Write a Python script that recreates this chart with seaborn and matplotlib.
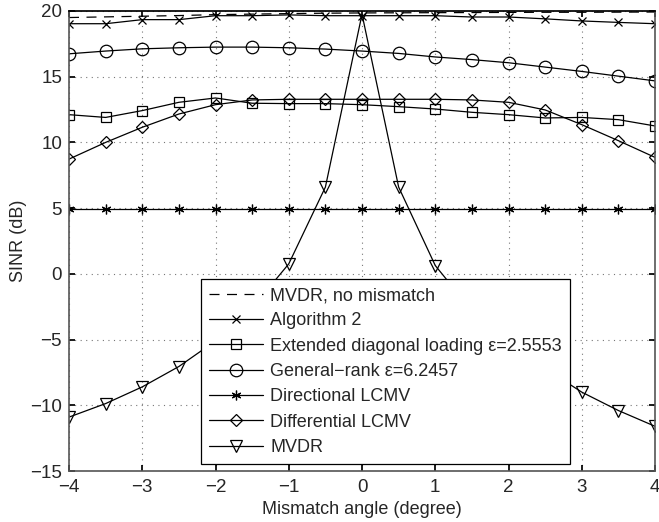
import numpy as np
import pandas as pd
import matplotlib
matplotlib.use("Agg")
import matplotlib.pyplot as plt
import seaborn as sns

angles = [-4, -3.5, -3, -2.5, -2, -1.5, -1, -0.5, 0, 0.5, 1, 1.5, 2, 2.5, 3, 3.5, 4]

mvdr_nomismatch = [19.5, 19.55, 19.6, 19.65, 19.72, 19.76, 19.8, 19.83, 19.85, 19.86, 19.87, 19.88, 19.89, 19.9, 19.9, 19.91, 19.92]
algorithm2 = [19.03, 19.03, 19.34, 19.34, 19.64, 19.64, 19.7, 19.64, 19.64, 19.64, 19.64, 19.54, 19.54, 19.4, 19.24, 19.13, 19.03]
ext_diag = [12.11, 11.9, 12.42, 13.05, 13.38, 12.98, 12.95, 12.95, 12.87, 12.72, 12.54, 12.29, 12.11, 11.86, 11.9, 11.73, 11.25]
general_rank = [16.74, 16.95, 17.12, 17.2, 17.25, 17.25, 17.2, 17.1, 16.95, 16.77, 16.5, 16.3, 16.06, 15.73, 15.4, 15.04, 14.68]
directional = [4.97, 4.97, 4.97, 4.97, 4.97, 4.97, 4.97, 4.97, 4.97, 4.97, 4.97, 4.97, 4.97, 4.97, 4.97, 4.97, 4.97]
differential = [8.73, 10.0, 11.15, 12.16, 12.87, 13.23, 13.28, 13.28, 13.28, 13.28, 13.28, 13.23, 13.05, 12.47, 11.35, 10.13, 8.86]
mvdr = [-10.9, -9.87, -8.6, -7.05, -5.1, -2.6, 0.76, 6.6, 19.75, 6.6, 0.63, -2.8, -5.2, -7.2, -9.0, -10.4, -11.6]

labels = ["MVDR, no mismatch", "Algorithm 2", "Extended diagonal loading \u03b5=2.5553",
          "General\u2212rank \u03b5=6.2457", "Directional LCMV", "Differential LCMV", "MVDR"]

sns.set_theme(style="white")
plt.rcParams['font.family'] = ['Liberation Sans', 'DejaVu Sans']
plt.rcParams['axes.unicode_minus'] = True

fig = plt.figure(figsize=(6.59, 5.22), dpi=100)
ax = fig.add_axes([0.1047, 0.0977, 0.8893, 0.8813])

series = [mvdr_nomismatch, algorithm2, ext_diag, general_rank, directional, differential, mvdr]
markers = [None, 'x', 's', 'o', (6, 2, 0), 'D', 'v']
msizes = [0, 6, 7, 9, 7, 6, 8]

for vals, lab, mk, ms in zip(series, labels, markers, msizes):
    kw = dict(x=angles, y=vals, ax=ax, color='black', label=lab, linewidth=0.9)
    if mk is None:
        sns.lineplot(**kw, linestyle=(0, (8, 6)))
    else:
        sns.lineplot(**kw, marker=mk, markersize=ms, markerfacecolor='none',
                     markeredgecolor='black', markeredgewidth=0.9)

ax.set_xlim(-4, 4)
ax.set_ylim(-15, 20)
ax.set_xticks(range(-4, 5))
ax.set_yticks(range(-15, 21, 5))
ax.grid(True, linestyle=(0, (1, 4)), color='#777777', linewidth=0.8)
ax.tick_params(direction='in', length=4, labelsize=13.5, top=True, right=True,
               bottom=True, left=True, color='black')
ax.tick_params(axis='x', pad=6)
ax.tick_params(axis='y', pad=5)
for side in ['left', 'right', 'bottom']:
    ax.spines[side].set_color('#555555')
    ax.spines[side].set_linewidth(1.2)
ax.spines['top'].set_color('black')
ax.set_xlabel("Mismatch angle (degree)", fontsize=13, labelpad=3)
ax.set_ylabel("SINR (dB)", fontsize=13)
ax.yaxis.set_label_coords(-0.072, 0.5)

leg = ax.legend(loc='lower left', bbox_to_anchor=(0.225, 0.015), fontsize=13,
                frameon=True, fancybox=False, framealpha=1, edgecolor='black',
                handlelength=3.0, borderpad=0.45, labelspacing=0.46, handletextpad=0.4,
                borderaxespad=0)
leg.get_frame().set_linewidth(0.9)

fig.savefig("out.png", dpi=100)
